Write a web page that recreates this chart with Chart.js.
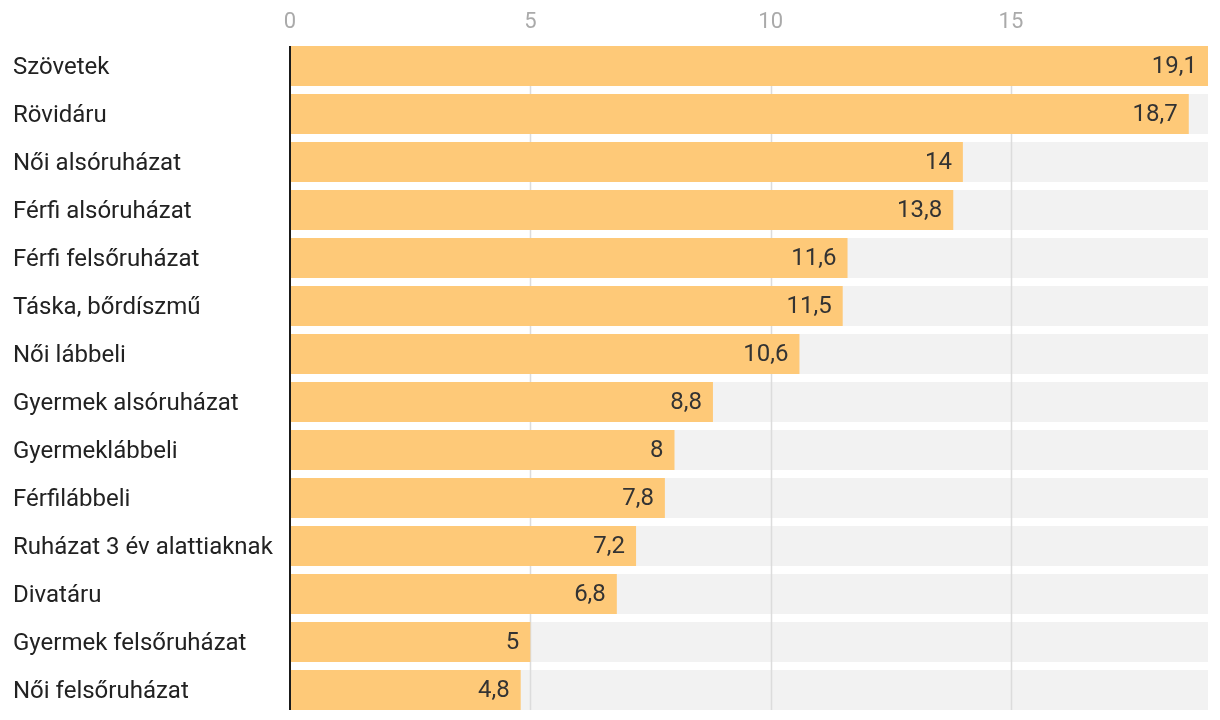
<!DOCTYPE html>
<html>
<head>
<meta charset="utf-8">
<script src="https://cdn.jsdelivr.net/npm/chart.js@4.4.1/dist/chart.umd.min.js"></script>
<style>
  html, body { margin: 0; padding: 0; background: #fff; overflow: hidden; }
  canvas { display: block; }
</style>
</head>
<body>
<canvas id="myChart" width="1220" height="720"></canvas>
<script>
const labels = [
    'Szövetek',
    'Rövidáru',
    'Női alsóruházat',
    'Férfi alsóruházat',
    'Férfi felsőruházat',
    'Táska, bőrdíszmű',
    'Női lábbeli',
    'Gyermek alsóruházat',
    'Gyermeklábbeli',
    'Férfilábbeli',
    'Ruházat 3 év alattiaknak',
    'Divatáru',
    'Gyermek felsőruházat',
    'Női felsőruházat',
];
const values = [19.1, 18.7, 14, 13.8, 11.6, 11.5, 10.6, 8.8, 8, 7.8, 7.2, 6.8, 5, 4.8];
const tickValues = [0, 5, 10, 15];
const xMax = 19.1;

const ctx = document.getElementById("myChart").getContext("2d");
Chart.defaults.font.family = "Roboto";

// gray track behind each bar, full scale width
const track = labels.map(() => xMax);

// grid lines + axis line sit between the gray track and the orange bars
const gridPlugin = {
    id: 'gridBetween',
    afterDatasetDraw(chart, args) {
        if (args.index !== 1) return;
        const x = chart.scales.x;
        const bars = args.meta.data;
        const top = bars[0].y - bars[0].height / 2;
        const bottom = bars[bars.length - 1].y + bars[bars.length - 1].height / 2;
        const c = chart.ctx;
        c.save();
        c.strokeStyle = '#dcdcdc';
        c.lineWidth = 1.5;
        tickValues.forEach(v => {
            if (v === 0) return;
            const px = Math.round(x.getPixelForValue(v)) + 0.5;
            c.beginPath();
            c.moveTo(px, top);
            c.lineTo(px, bottom);
            c.stroke();
        });
        c.restore();
    },
    afterDatasetsDraw(chart) {
        const x = chart.scales.x;
        const bars = chart.getDatasetMeta(1).data;
        const top = bars[0].y - bars[0].height / 2;
        const bottom = bars[bars.length - 1].y + bars[bars.length - 1].height / 2;
        const c = chart.ctx;
        c.save();
        c.strokeStyle = '#1a1a1a';
        c.lineWidth = 2;
        const px = x.getPixelForValue(0);
        c.beginPath();
        c.moveTo(px, top);
        c.lineTo(px, bottom);
        c.stroke();

        // value labels at the end of each bar
        const meta = chart.getDatasetMeta(0);
        c.font = '24px Roboto';
        c.fillStyle = '#333';
        c.textAlign = 'right';
        c.textBaseline = 'middle';
        meta.data.forEach((bar, i) => {
            c.fillText(String(values[i]).replace('.', ','), bar.x - 11, bar.y + 1);
        });
        c.restore();
    }
};

const data = {
    labels,
    datasets: [
        {
            label: 'érték',
            data: values,
            backgroundColor: '#fec978',
            order: 1,
        },
        {
            label: 'háttér',
            data: track,
            backgroundColor: '#f2f2f2',
            order: 2,
        }
    ],
};

const config = {
    type: 'bar',
    data: data,
    options: {
        indexAxis: 'y',
        responsive: false,
        animation: false,
        grouped: false,
        barPercentage: 40 / 48,
        categoryPercentage: 1,
        layout: {
            padding: { left: 13, right: 12, top: 0, bottom: 6 }
        },
        plugins: {
            legend: { display: false },
            tooltip: { enabled: false },
        },
        scales: {
            x: {
                position: 'top',
                min: 0,
                max: xMax,
                afterBuildTicks: (scale) => {
                    scale.ticks = tickValues.map(v => ({ value: v }));
                },
                afterFit: (scale) => {
                    scale.height = 42;
                    scale.paddingLeft = 0;
                    scale.paddingRight = 0;
                },
                grid: { display: false, drawTicks: false },
                border: { display: false },
                ticks: {
                    color: '#aaa',
                    font: { size: 22 },
                    padding: 6,
                }
            },
            y: {
                afterFit: (scale) => {
                    scale.width = 277;
                    scale.paddingTop = 0;
                    scale.paddingBottom = 0;
                },
                grid: { display: false, drawTicks: false },
                border: { display: false },
                ticks: {
                    crossAlign: 'far',
                    color: '#222',
                    font: { size: 24 },
                    padding: 0,
                    labelOffset: 2,
                }
            }
        }
    },
    plugins: [gridPlugin],
};

const myChart = new Chart(ctx, config);
</script>
</body>
</html>
